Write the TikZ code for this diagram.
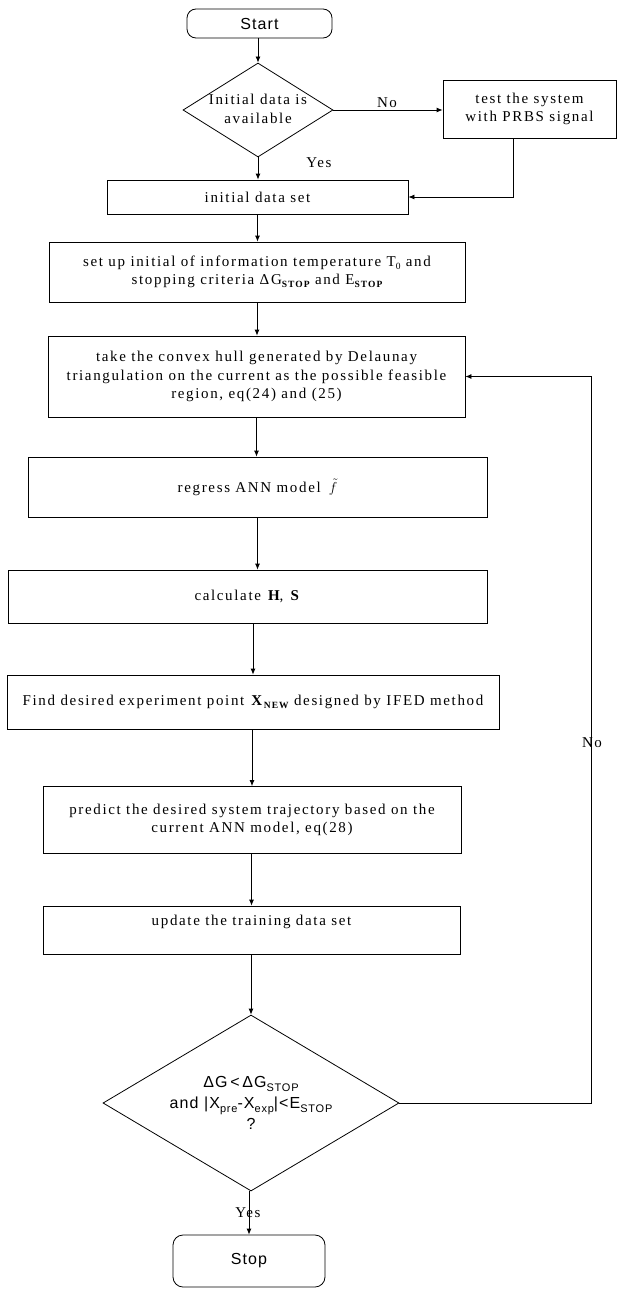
\documentclass[tikz,border=0pt]{standalone}
\usepackage{fontspec}
\newfontfamily\srf[LetterSpace=11]{Liberation Serif}
\newfontfamily\snf[LetterSpace=7]{Liberation Sans}
\usetikzlibrary{arrows.meta,shapes.geometric,calc}
\newcommand{\sbs}[1]{\raisebox{-3pt}{\fontsize{9.5}{10}\selectfont\bfseries #1}}
\newcommand{\ssbs}[1]{\raisebox{-4pt}{\fontsize{11}{11}\selectfont #1}}
\begin{document}
\begin{tikzpicture}[x=1pt,y=-1pt,
  box/.style={draw, line width=0.8pt, align=center, inner sep=0pt, font=\srf\fontsize{15}{18.5}\selectfont},
  term/.style={draw, line width=0.8pt, rounded corners=9pt, inner sep=0pt, font=\snf\fontsize{16}{18}\selectfont},
  dec/.style={draw, diamond, inner sep=0pt, line width=0.8pt},
  txt/.style={align=center, inner sep=0pt, font=\srf\fontsize{15}{18.5}\selectfont},
  stxt/.style={align=center, inner sep=0pt, font=\snf\fontsize{16}{21}\selectfont},
  arr/.style={-{Latex[length=6pt,width=5pt]}, line width=0.8pt},
  ln/.style={line width=0.8pt}]
\useasboundingbox (0,0) rectangle (618,1290);

\node[term, minimum width=145pt, minimum height=29pt] (start) at (259.5,23.5) {Start};
\node[dec, minimum width=150pt, minimum height=94pt] (d1) at (258,110) {};
\node[txt] (d1t) at (258,109) {Initial data is\\available};
\node[box, minimum width=173pt, minimum height=58pt] (prbs) at (529.5,109) {test the system\\with PRBS signal};
\node[box, minimum width=301pt, minimum height=34pt] (ids) at (257.5,197) {initial data set};
\node[box, minimum width=416pt, minimum height=60pt] (setup) at (257,272)
  {set up initial of information temperature T\sbs{\mdseries 0} and\\stopping criteria ΔG\sbs{STOP} and E\sbs{STOP}};
\node[box, minimum width=417pt, minimum height=81pt] (hull) at (256.5,376.5)
  {take the convex hull generated by Delaunay\\triangulation on the current as the possible feasible\\region, eq(24) and (25)};
\node[box, minimum width=459pt, minimum height=60pt] (regress) at (257.5,487)
  {regress ANN model\hspace{8pt}$\tilde{f}$};
\node[box, minimum width=479pt, minimum height=53pt] (calc) at (247.5,596.5)
  {calculate \textbf{H}, \textbf{S}};
\node[box, minimum width=492pt, minimum height=54pt] (find) at (253,702)
  {Find desired experiment point \textbf{X}\sbs{NEW} designed by IFED method};
\node[box, minimum width=418pt, minimum height=67pt] (pred) at (252,820)
  {predict the desired system trajectory based on the\\current ANN model, eq(28)};
\node[box, minimum width=417pt, minimum height=48pt] (upd) at (251.5,930) {};
\node[txt] (updt) at (251.5,922) {update the training data set};
\node[dec, minimum width=296pt, minimum height=176pt] (d2) at (251,1103) {};
\node[stxt] (d2t) at (251,1103)
  {ΔG\,<\,ΔG\ssbs{STOP}\\and |X\ssbs{pre}-X\ssbs{exp}|<E\ssbs{STOP}\\?};
\node[term, rounded corners=10pt, minimum width=152pt, minimum height=52pt] (stop) at (249,1261) {Stop};

\node[txt] (no1) at (387,103) {No};
\node[txt] (yes1) at (319,163) {Yes};
\node[txt] (no2) at (592,743) {No};
\node[txt] (yes2) at (248,1213) {Yes};

\coordinate (c1) at (513,0);
\coordinate (fb) at (591,0);

\draw[arr] (start.south -| d1.north) -- (d1.north);
\draw[arr] (d1.east) -- (prbs.west |- d1.east);
\draw[arr] (d1.south) -- (d1.south |- ids.north);
\draw[arr] (prbs.south -| c1) |- (ids.east);
\draw[arr] (ids.south) -- (ids.south |- setup.north);
\draw[arr] (setup.south) -- (setup.south |- hull.north);
\draw[arr] (hull.south) -- (hull.south |- regress.north);
\draw[arr] (regress.south) -- (regress.south |- calc.north);
\draw[arr] (calc.south -| find.north) -- (find.north);
\draw[arr] (find.south -| pred.north) -- (pred.north);
\draw[arr] (pred.south -| upd.north) -- (upd.north);
\draw[arr] (upd.south -| d2.north) -- (d2.north);
\draw[arr] (d2.south -| stop.north) -- (stop.north);
\draw[arr] (d2.east) -- (d2.east -| fb) |- (hull.east);
\end{tikzpicture}
\end{document}
